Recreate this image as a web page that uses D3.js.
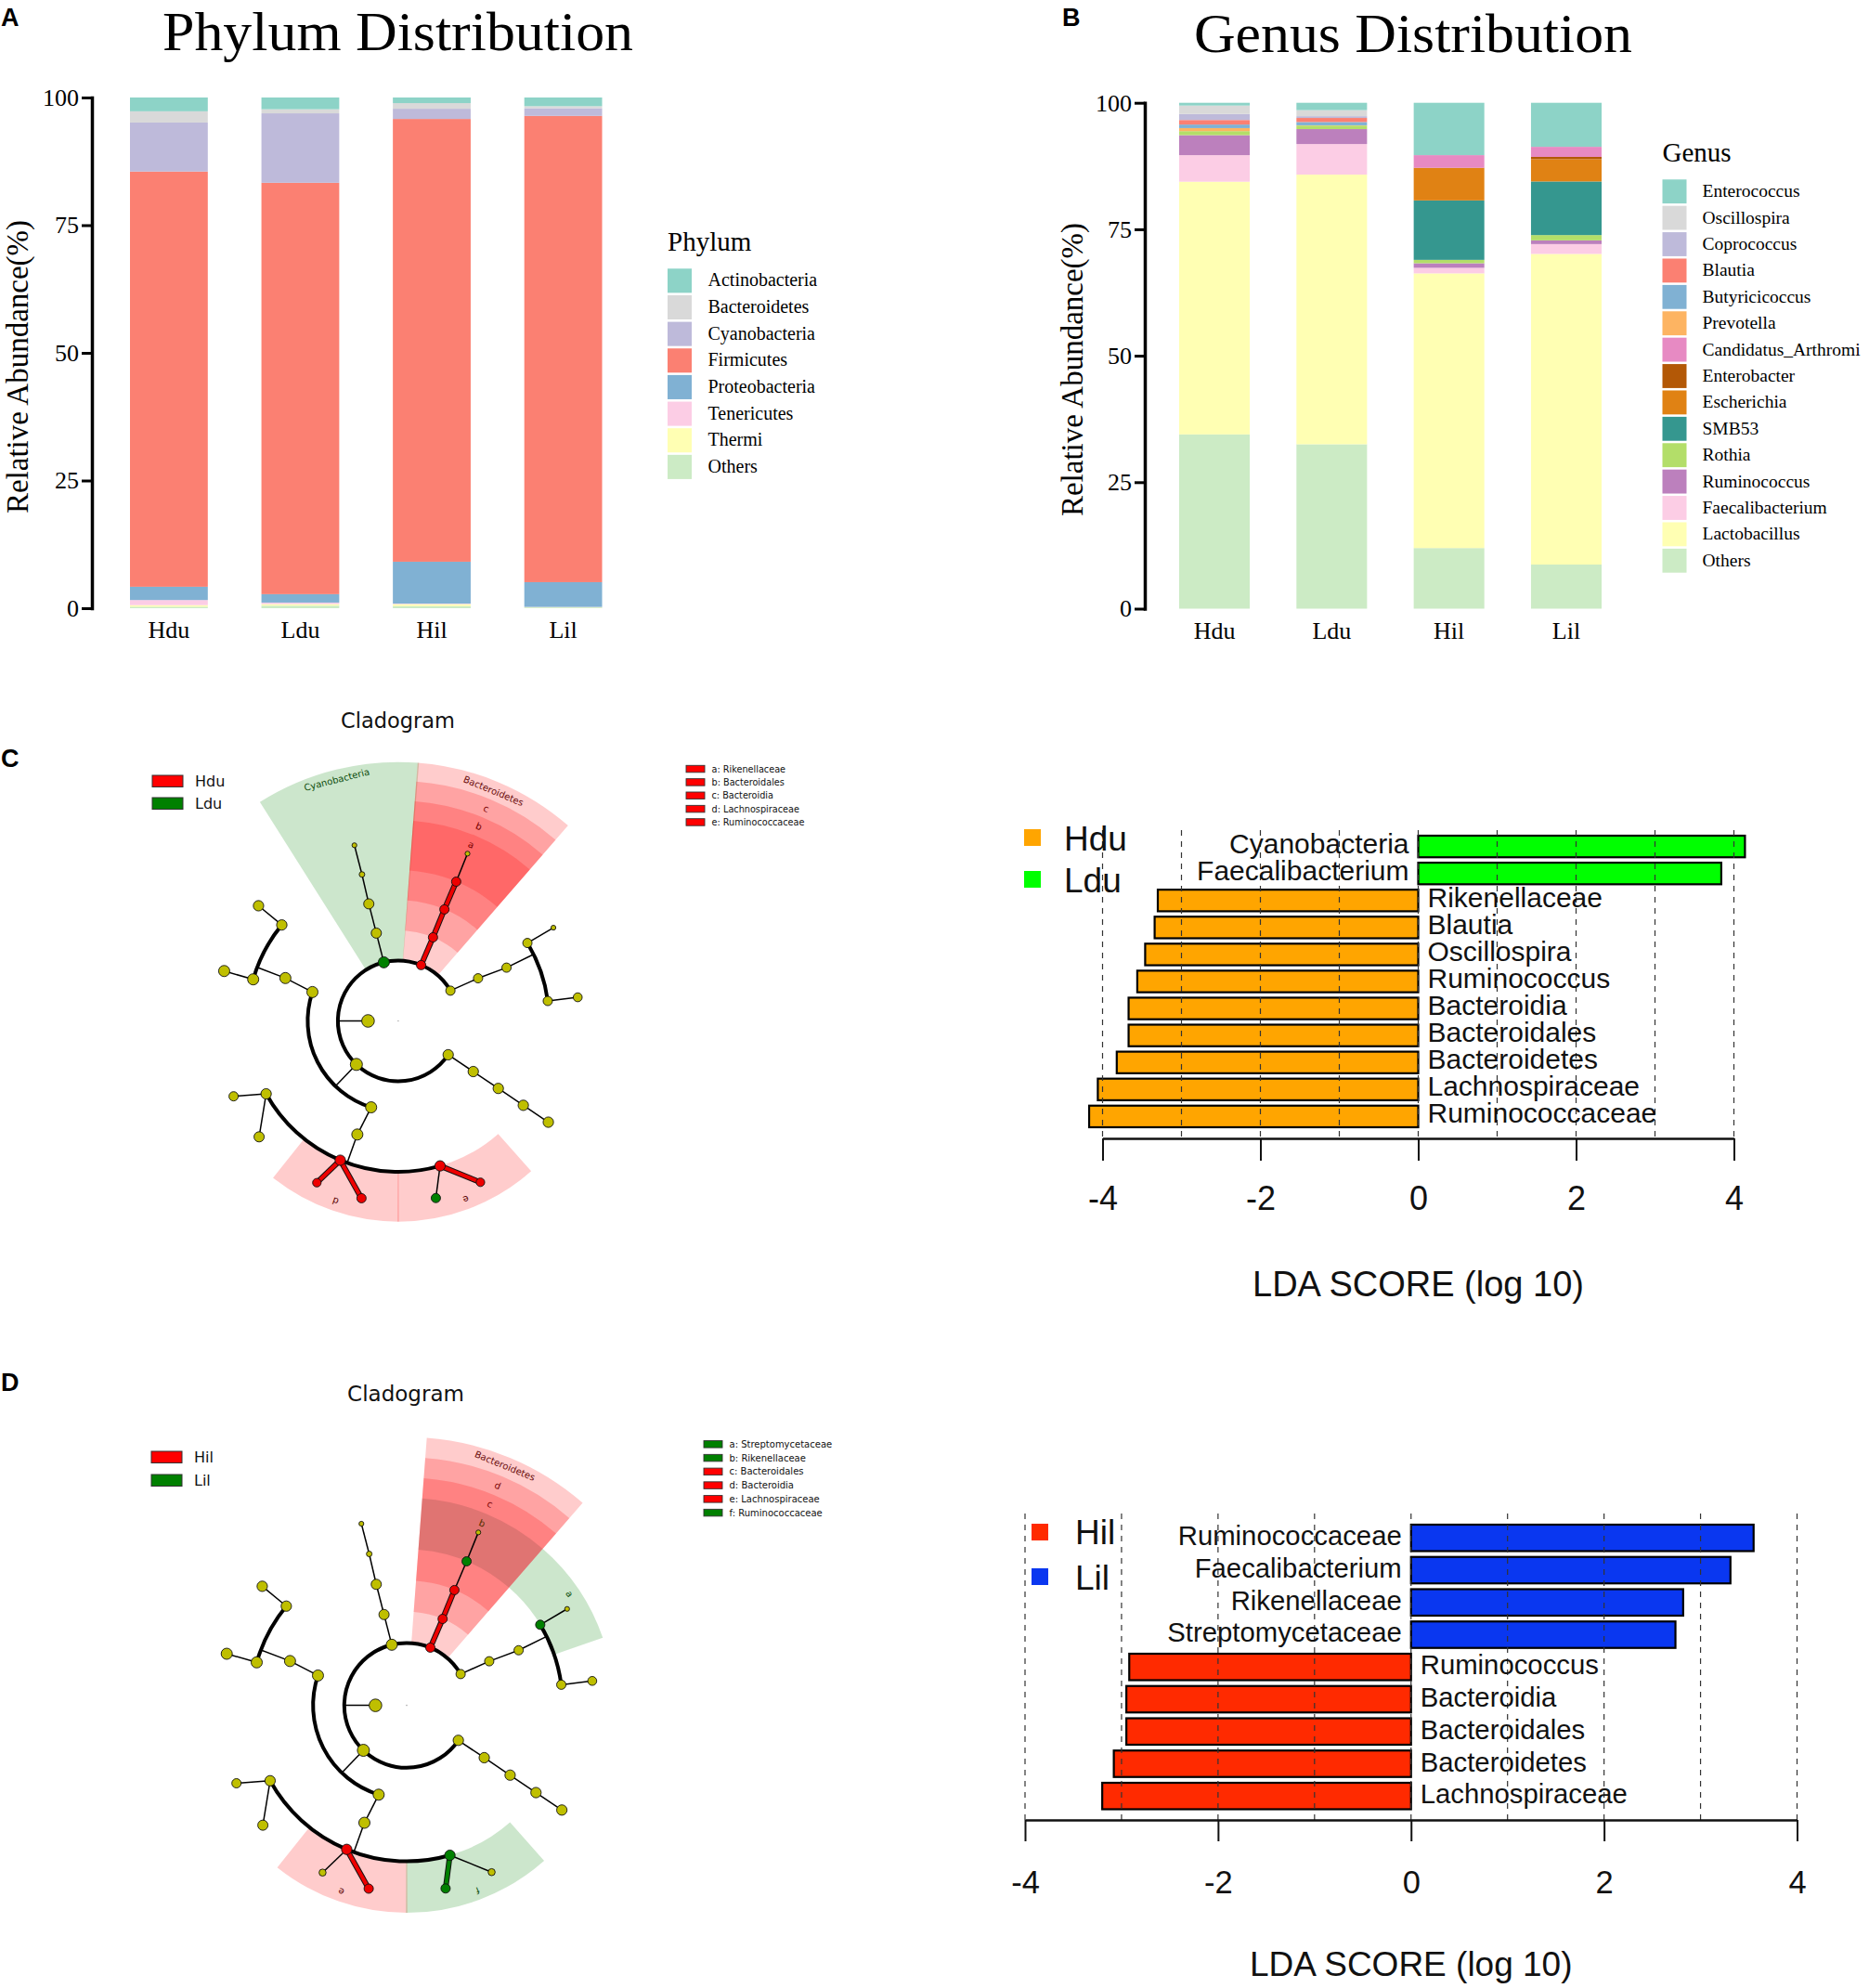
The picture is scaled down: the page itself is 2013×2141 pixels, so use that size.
<!DOCTYPE html>
<html><head><meta charset="utf-8">
<script src="https://cdn.jsdelivr.net/npm/d3@7/dist/d3.min.js"></script>
<style>html,body{margin:0;padding:0;background:#fff}svg{display:block}</style>
</head><body><svg id="c" width="2013" height="2141"></svg>
<script>
// ---------- stacked bar data ----------
const groups = ["Hdu","Ldu","Hil","Lil"];
const phylumNames = ["Actinobacteria","Bacteroidetes","Cyanobacteria","Firmicutes","Proteobacteria","Tenericutes","Thermi","Others"];
const phylumColors = ["#8DD3C7","#D9D9D9","#BEBADA","#FB8072","#80B1D3","#FCCDE5","#FFFFB3","#CCEBC5"];
const phylumHdu = [2.7,2.2,9.6,81.3,2.6,1.0,0.3,0.3];
const phylumLdu = [2.3,0.8,13.6,80.55,1.65,0.3,0.3,0.5];
const phylumHil = [1.1,1.1,2.0,86.7,8.2,0.1,0.4,0.4];
const phylumLil = [1.7,0.4,1.5,91.3,4.85,0.05,0.05,0.15];
const genusNames = ["Enterococcus","Oscillospira","Coprococcus","Blautia","Butyricicoccus","Prevotella","Candidatus_Arthromi","Enterobacter","Escherichia","SMB53","Rothia","Ruminococcus","Faecalibacterium","Lactobacillus","Others"];
const genusColors = ["#8DD3C7","#D9D9D9","#BEBADA","#FB8072","#80B1D3","#FDB462","#E78AC3","#B35806","#E08214","#35978F","#B3DE69","#BC80BD","#FCCDE5","#FFFFB3","#CCEBC5"];
const genusHdu = [0.55,1.65,1.2,0.9,0.7,0.6,0,0,0,0,0.8,3.95,5.25,49.95,34.45];
const genusLdu = [1.45,1.2,0.35,0.8,0.65,0.05,0,0,0,0,0.7,2.95,6.05,53.3,32.5];
const genusHil = [10.35,0,0,0,0,0,2.5,0.05,6.4,11.75,0.67,0.9,1.1,54.3,11.98];
const genusLil = [8.7,0,0,0,0,0,2.0,0.45,4.4,10.6,1.05,0.73,1.95,61.4,8.72];
const pctTicks = [0,25,50,75,100];

// ---------- LDA data ----------
const ldaTermsC = ["Cyanobacteria","Faecalibacterium","Rikenellaceae","Blautia","Oscillospira","Ruminococcus","Bacteroidia","Bacteroidales","Bacteroidetes","Lachnospiraceae","Ruminococcaceae"];
const ldaScoresC = [4.14,3.84,-3.30,-3.34,-3.46,-3.56,-3.67,-3.67,-3.82,-4.06,-4.17];
const ldaTermsD = ["Ruminococcaceae","Faecalibacterium","Rikenellaceae","Streptomycetaceae","Ruminococcus","Bacteroidia","Bacteroidales","Bacteroidetes","Lachnospiraceae"];
const ldaScoresD = [3.55,3.31,2.82,2.74,-2.92,-2.95,-2.95,-3.08,-3.20];
const ldaTicks = [-4,-2,0,2,4];
const ldaGrid = [-4,-3,-2,-1,0,1,2,3,4];

// ---------- cladogram tree (shared by both panels) ----------
const cladeIds     = ["k","a2","a3","a4","a5","a6","f2","fc1","fo1","ff1","fg1","fg2","ff2","fg3","fg4","ff3","fg5","fg6","fc2","fo2","ff4","fg7","ff5","fg8","c2","c3","c4","c5","c6","b2","b3","b4","b5","b6","p2","p3","p4","p5","p6","p7","p8"];
const cladeParents = ["","k","a2","a3","a4","a5","k","f2","fc1","fo1","ff1","ff1","fo1","ff2","ff2","fo1","ff3","ff3","f2","fc2","fo2","ff4","fo2","ff5","k","c2","c3","c4","c5","k","b2","b3","b4","b5","k","p2","p3","p4","p5","p4","p7"];
const cladeLevels  = [1,2,3,4,5,6,2,3,4,5,6,6,5,6,6,5,6,6,3,4,5,6,5,6,2,3,4,5,6,2,3,4,5,6,2,3,4,5,6,5,6];
const cladeAngles  = [270,124.1,124,124,124,124,223.9,197.4,199.8,163.9,153,168,202.6,191.7,206.7,241.1,230.2,245.4,288.6,290.8,286,286,309.5,309.5,346.2,346,345.9,346.1,346,382.3,382.6,382.5,382.6,382.5,419.9,421.9,423.8,418.9,419,442.4,442.5];
const cladeSizes   = [6.8,5.6,5.6,5.6,5.6,5.6,6.5,6,6,5.6,4.6,5,5.6,5,4.6,5.6,5.5,5,6,6,6,6,5.6,5.6,6,5.5,5.5,3,2.6,5,5,5,5,2.6,5,5,5,5,2.6,5,4.8];
const redNodesC = ["b2","b3","b4","b5","ff1","ff2","fg1","fg3","fg4"];
const greenNodesC = ["c2","fg2"];
const thickEdgesC = ["b3","b4","b5","fg1","fg3","fg4"];
const redNodesD = ["b2","b3","b4","ff2","fg3"];
const greenNodesD = ["b5","p5","ff1","fg2"];
const thickEdgesD = ["b3","b4","fg3","fg2"];
const smallNodesD = ["fg1","fg4"];

// wedges: start angle, end angle, inner level, outer level, colour, opacity
const wedgesC = [
 {a0:327.7,a1:364.6,l0:2.05,l1:8.58,col:"#008000",op:0.2},
 {a0:364.3,a1:401,l0:2.05,l1:8.58,col:"#FF0000",op:0.2},
 {a0:364.3,a1:401,l0:3,l1:7.95,col:"#FF0000",op:0.2},
 {a0:364.3,a1:401,l0:4,l1:7.3,col:"#FF0000",op:0.2},
 {a0:364.3,a1:401,l0:5,l1:6.65,col:"#FF0000",op:0.2},
 {a0:179.8,a1:218.6,l0:5,l1:6.65,col:"#FF0000",op:0.2},
 {a0:138.5,a1:180.2,l0:5,l1:6.65,col:"#FF0000",op:0.2}];
const wedgesD = [
 {a0:364.3,a1:401,l0:2.05,l1:8.6,col:"#FF0000",op:0.2},
 {a0:364.3,a1:401,l0:3,l1:7.95,col:"#FF0000",op:0.2},
 {a0:364.3,a1:401,l0:4,l1:7.3,col:"#FF0000",op:0.2},
 {a0:364.3,a1:401,l0:5,l1:6.65,col:"#001000",op:0.12},
 {a0:401,a1:431,l0:5,l1:6.65,col:"#008000",op:0.2},
 {a0:179.8,a1:218.6,l0:5,l1:6.65,col:"#FF0000",op:0.2},
 {a0:138.5,a1:180.2,l0:5,l1:6.65,col:"#008000",op:0.2}];
const wedgeLabelsC = [
 {t:"Cyanobacteria",a:345.7,l:8.25,col:"#0b4d0b",fs:10},
 {t:"Bacteroidetes",a:382.5,l:8.25,col:"#6a0a0a",fs:10},
 {t:"c",a:382.5,l:7.62,col:"#7a0000",fs:10},
 {t:"b",a:382.5,l:6.98,col:"#7a0000",fs:10},
 {t:"a",a:382.5,l:6.32,col:"#7a0000",fs:10},
 {t:"d",a:199.2,l:6.32,col:"#5a0000",fs:10},
 {t:"e",a:159.2,l:6.32,col:"#5a0000",fs:10}];
const wedgeLabelsD = [
 {t:"Bacteroidetes",a:382.3,l:8.3,col:"#6a0a0a",fs:10},
 {t:"d",a:382.5,l:7.62,col:"#7a0000",fs:10},
 {t:"c",a:382.5,l:6.98,col:"#7a0000",fs:10},
 {t:"b",a:382.5,l:6.32,col:"#5a3000",fs:10},
 {t:"a",a:415.6,l:6.33,col:"#0b4d0b",fs:10},
 {t:"e",a:199.4,l:6.33,col:"#5a0000",fs:10},
 {t:"f",a:159,l:6.35,col:"#0b4d0b",fs:10}];
const keyNamesC = ["a: Rikenellaceae","b: Bacteroidales","c: Bacteroidia","d: Lachnospiraceae","e: Ruminococcaceae"];
const keyColsC = ["#FF0000","#FF0000","#FF0000","#FF0000","#FF0000"];
const keyNamesD = ["a: Streptomycetaceae","b: Rikenellaceae","c: Bacteroidales","d: Bacteroidia","e: Lachnospiraceae","f: Ruminococcaceae"];
const keyColsD = ["#008000","#008000","#FF0000","#FF0000","#FF0000","#008000"];

const svg = d3.select("#c");
svg.append("rect").attr("width",2013).attr("height",2141).attr("fill","#fff");
const SERIF = "'Liberation Serif',serif", SANS = "'Liberation Sans',Arial,sans-serif", DEJA = "'DejaVu Sans',sans-serif";
function txt(g,s,x,y,fs,fam,o={}){
  const t = g.append("text").attr("x",x).attr("y",y).attr("font-size",fs).attr("font-family",fam)
    .attr("text-anchor",o.anchor||"start").attr("fill",o.fill||"#000").attr("font-weight",o.weight||"normal")
    .attr("transform",o.rot!=null?`rotate(${o.rot} ${x} ${y})`:null).text(s);
  if(o.len) t.attr("textLength",o.len).attr("lengthAdjust","spacingAndGlyphs");
  return t;
}
[["A",1,28],["B",1144,28],["C",1,826],["D",1,1498]].forEach(p=>txt(svg,p[0],p[1],p[2],27,SANS,{weight:"bold"}));

function stackedPanel(cfg){
  const g = svg.append("g");
  const rows = groups.map((n,i)=>{const o={group:n}; cfg.names.forEach((k,j)=>o[k]=cfg.series[i][j]); return o;});
  const stack = d3.stack().keys(cfg.names.slice().reverse())(rows);
  const x = d3.scaleBand().domain(groups).range(cfg.xr).paddingInner(cfg.pad).paddingOuter(0);
  const y = d3.scaleLinear().domain([0,100]).range(cfg.yr);
  const col = d3.scaleOrdinal().domain(cfg.names).range(cfg.colors);
  stack.forEach(s=>{
    g.append("g").attr("fill",col(s.key)).selectAll("rect").data(s).join("rect")
     .attr("x",d=>x(d.data.group)).attr("width",x.bandwidth())
     .attr("y",d=>y(d[1])).attr("height",d=>Math.max(0,y(d[0])-y(d[1])));
  });
  const ay = g.append("g").attr("transform",`translate(${cfg.ax},0)`)
    .call(d3.axisLeft(y).tickValues(pctTicks).tickSize(11).tickSizeOuter(0).tickPadding(3));
  ay.selectAll("path").attr("stroke","#000").attr("stroke-width",3.5).attr("stroke-linecap","square");
  ay.selectAll("line").attr("stroke","#000").attr("stroke-width",3);
  ay.selectAll("text").attr("font-family",SERIF).attr("font-size",26).attr("fill","#000");
  const ax = g.append("g").attr("transform",`translate(0,${cfg.yr[0]+8})`)
    .call(d3.axisBottom(x).tickSize(0).tickPadding(6));
  ax.select("path").remove();
  ax.selectAll("text").attr("font-family",SERIF).attr("font-size",26).attr("fill","#000");
  txt(g,cfg.title,cfg.tx,cfg.ty,60,SERIF,{len:cfg.tlen});
  txt(g,"Relative Abundance(%)",cfg.ylx,cfg.yly,33,SERIF,{anchor:"middle",rot:-90});
  txt(g,cfg.legTitle,cfg.lx,cfg.lty,29,SERIF);
  const ly = d3.scaleBand().domain(cfg.names).range([cfg.ly0,cfg.ly0+cfg.names.length*cfg.step]).paddingInner(0.09).paddingOuter(0.045);
  g.append("g").selectAll("rect").data(cfg.names).join("rect")
    .attr("x",cfg.lx).attr("width",26).attr("y",d=>ly(d)).attr("height",ly.bandwidth()).attr("fill",d=>col(d));
  g.append("g").selectAll("text").data(cfg.names).join("text")
    .attr("x",cfg.lx+cfg.ltx).attr("y",d=>ly(d)+ly.bandwidth()/2+6).attr("font-size",cfg.lfs).attr("font-family",SERIF).text(d=>d);
}
stackedPanel({names:phylumNames,colors:phylumColors,series:[phylumHdu,phylumLdu,phylumHil,phylumLil],
  xr:[140,648.5],pad:0.408,yr:[655,105],ax:99,title:"Phylum Distribution",tx:175,ty:53.5,tlen:507,ylx:30,yly:395,
  legTitle:"Phylum",lx:719,lty:270,ly0:288,step:28.65,ltx:43.5,lfs:20});
stackedPanel({names:genusNames,colors:genusColors,series:[genusHdu,genusLdu,genusHil,genusLil],
  xr:[1270,1725],pad:0.398,yr:[655.5,110.7],ax:1233,title:"Genus Distribution",tx:1286,ty:56,tlen:472,ylx:1166,yly:398,
  legTitle:"Genus",lx:1790.5,lty:174,ly0:192,step:28.4,ltx:43,lfs:19.5});

function ldaPanel(cfg){
  const g = svg.append("g");
  const x = d3.scaleLinear().domain([-4,4]).range(cfg.xr);
  const y = d3.scaleBand().domain(cfg.terms).range([cfg.y0,cfg.y1]).paddingInner(cfg.pad).paddingOuter(0);
  const bars = cfg.terms.map((t,i)=>({t,v:cfg.scores[i]}));
  g.append("g").selectAll("rect").data(bars).join("rect")
    .attr("x",d=>x(Math.min(0,d.v))).attr("width",d=>Math.abs(x(d.v)-x(0)))
    .attr("y",d=>y(d.t)).attr("height",y.bandwidth())
    .attr("fill",d=>d.v>0?cfg.pos:cfg.neg).attr("stroke","#000").attr("stroke-width",2.2);
  g.append("g").selectAll("line").data(ldaGrid).join("line")
    .attr("x1",d=>x(d)).attr("x2",d=>x(d)).attr("y1",cfg.gy).attr("y2",cfg.ay)
    .attr("stroke","#333").attr("stroke-width",1.2).attr("stroke-dasharray","6,6");
  g.append("g").selectAll("text").data(bars).join("text")
    .attr("x",d=>d.v>0?x(0)-10:x(0)+10).attr("y",d=>y(d.t)+y.bandwidth()/2+cfg.tdy)
    .attr("text-anchor",d=>d.v>0?"end":"start").attr("font-family",SANS).attr("font-size",cfg.fs).attr("fill","#111").text(d=>d.t);
  const a = g.append("g").attr("transform",`translate(0,${cfg.ay})`)
    .call(d3.axisBottom(x).tickValues(ldaTicks).tickSize(cfg.ts).tickSizeOuter(0).tickPadding(cfg.tp).tickFormat(d=>String(d)));
  a.select("path").attr("stroke","#111").attr("stroke-width",2.6);
  a.selectAll("line").attr("stroke","#111").attr("stroke-width",2);
  a.selectAll("text").attr("font-family",SANS).attr("font-size",cfg.tfs).attr("fill","#111");
  txt(g,"LDA SCORE (log 10)",x(0),cfg.ly,cfg.lfs,SANS,{anchor:"middle",fill:"#111"});
  cfg.leg.forEach(l=>{
    g.append("rect").attr("x",cfg.lgx).attr("y",l.y).attr("width",cfg.lgs).attr("height",cfg.lgs).attr("fill",l.c);
    txt(g,l.t,cfg.lgt,l.b,cfg.lgf,SANS,{fill:"#111"});
  });
}
ldaPanel({terms:ldaTermsC,scores:ldaScoresC,xr:[1187.5,1867.5],y0:900,y1:1214,pad:0.2,pos:"#00FF00",neg:"#FFA500",
  gy:894,ay:1226,ts:24,tp:27,tfs:36,ly:1396,lfs:38,fs:30,tdy:7,lgx:1103,lgs:18,lgt:1146,lgf:37,
  leg:[{t:"Hdu",c:"#FFA500",y:893,b:916},{t:"Ldu",c:"#00FF00",y:938,b:961}]});
ldaPanel({terms:ldaTermsD,scores:ldaScoresD,xr:[1104,1935.5],y0:1642,y1:1948.5,pad:0.18,pos:"#0A37F0",neg:"#FF2A00",
  gy:1630,ay:1960,ts:23,tp:32,tfs:34.5,ly:2128,lfs:37,fs:29.3,tdy:8,lgx:1111,lgs:18,lgt:1158,lgf:37,
  leg:[{t:"Hil",c:"#FF2A00",y:1641,b:1663},{t:"Lil",c:"#0A37F0",y:1689,b:1712}]});

function clado(cfg){
  const g = svg.append("g");
  const rad = d3.scaleLinear().domain([0,1]).range([0,cfg.unit]);
  const plot = g.append("g").attr("transform",`translate(${cfg.cx},${cfg.cy})`);
  const toRad = d3.scaleLinear().domain([0,360]).range([0,2*Math.PI]);
  const wedge = d3.arc();
  plot.append("g").selectAll("path").data(cfg.wedges).join("path")
    .attr("d",d=>wedge({innerRadius:rad(d.l0),outerRadius:rad(d.l1),startAngle:toRad(d.a0),endAngle:toRad(d.a1)}))
    .attr("fill",d=>d.col).attr("fill-opacity",d=>d.op);
  const nodes = cladeIds.map((id,i)=>({id,parent:cladeParents[i],level:cladeLevels[i],angle:cladeAngles[i],size:cladeSizes[i]}));
  const byId = new Map(nodes.map(n=>[n.id,n]));
  const pt = (a,l)=>d3.pointRadial(toRad(a),rad(l));
  const cls = id => cfg.red.includes(id)?"#EE0000":cfg.green.includes(id)?"#008000":"#BFBF00";
  const arcPath = d3.arc();
  const edges = plot.append("g").attr("fill","none");
  const seg = (a,b,st,w)=>edges.append("line").attr("x1",a[0]).attr("y1",a[1]).attr("x2",b[0]).attr("y2",b[1]).attr("stroke",st).attr("stroke-width",w);
  d3.groups(nodes.filter(n=>n.parent),n=>n.parent).forEach(([pid,kids])=>{
    const p = byId.get(pid);
    const useArc = kids.length>1 && kids[0].level<6;
    if(useArc){
      const l = kids[0].level;
      const e = d3.extent(kids,k=>k.angle);
      seg(pt(p.angle,p.level),pt(p.angle,l),"#000",1.5);
      edges.append("path").attr("d",arcPath({innerRadius:rad(l),outerRadius:rad(l),startAngle:toRad(e[0]),endAngle:toRad(e[1])}))
        .attr("stroke","#000").attr("stroke-width",4);
    } else kids.forEach(k=>{
      const hot = cfg.thick.includes(k.id);
      const a = pt(p.angle,p.level), b = pt(k.angle,k.level);
      if(hot){ seg(a,b,"#111",6); seg(a,b,cls(k.id),4); }
      else seg(a,b,"#000",1.5);
    });
  });
  plot.append("circle").attr("r",0.8).attr("fill","#aaa");
  plot.append("g").selectAll("circle").data(nodes).join("circle")
    .attr("cx",d=>pt(d.angle,d.level)[0]).attr("cy",d=>pt(d.angle,d.level)[1])
    .attr("r",d=>cfg.small.includes(d.id)?3.8:d.size)
    .attr("fill",d=>cls(d.id)).attr("stroke","#111").attr("stroke-width",0.9);
  plot.append("g").selectAll("text").data(cfg.labels).join("text")
    .attr("transform",d=>{const q=pt(d.a,d.l);return `translate(${q[0]},${q[1]}) rotate(${d.a})`;})
    .attr("text-anchor","middle").attr("dy","0.35em").attr("font-family",DEJA).attr("font-size",d=>d.fs).attr("fill",d=>d.col).text(d=>d.t);
  txt(g,"Cladogram",cfg.tx,cfg.ty,cfg.tfs,DEJA,{anchor:"middle",fill:"#111"});
  cfg.leg.forEach(l=>{
    g.append("rect").attr("x",cfg.lgx).attr("y",l.y).attr("width",33).attr("height",12.5).attr("fill",l.c).attr("stroke","#333").attr("stroke-width",1);
    txt(g,l.t,cfg.lgx+46,l.y+11.5,16,DEJA,{fill:"#111"});
  });
  cfg.keyNames.forEach((k,i)=>{
    g.append("rect").attr("x",cfg.kx).attr("y",cfg.ky+i*cfg.kstep-3.7).attr("width",20).attr("height",7.5).attr("fill",cfg.keyCols[i]).attr("stroke","#333").attr("stroke-width",0.9);
    txt(g,k,cfg.kx+27.5,cfg.ky+i*cfg.kstep+3.5,cfg.kfs,DEJA,{fill:"#111"});
  });
}
clado({cx:428.9,cy:1099.5,unit:32.5,wedges:wedgesC,labels:wedgeLabelsC,red:redNodesC,green:greenNodesC,thick:thickEdgesC,small:[],
  tx:428.5,tfs:22.5,ty:784,lgx:164,leg:[{t:"Hdu",c:"#FF0000",y:835},{t:"Ldu",c:"#008000",y:859}],
  keyNames:keyNamesC,keyCols:keyColsC,kx:739,ky:828,kstep:14.35,kfs:9.7});
clado({cx:438,cy:1836.6,unit:33.6,wedges:wedgesD,labels:wedgeLabelsD,red:redNodesD,green:greenNodesD,thick:thickEdgesD,small:smallNodesD,
  tx:437,tfs:23,ty:1509,lgx:163,leg:[{t:"Hil",c:"#FF0000",y:1563},{t:"Lil",c:"#008000",y:1588}],
  keyNames:keyNamesD,keyCols:keyColsD,kx:758,ky:1555.3,kstep:14.75,kfs:10});
</script></body></html>
